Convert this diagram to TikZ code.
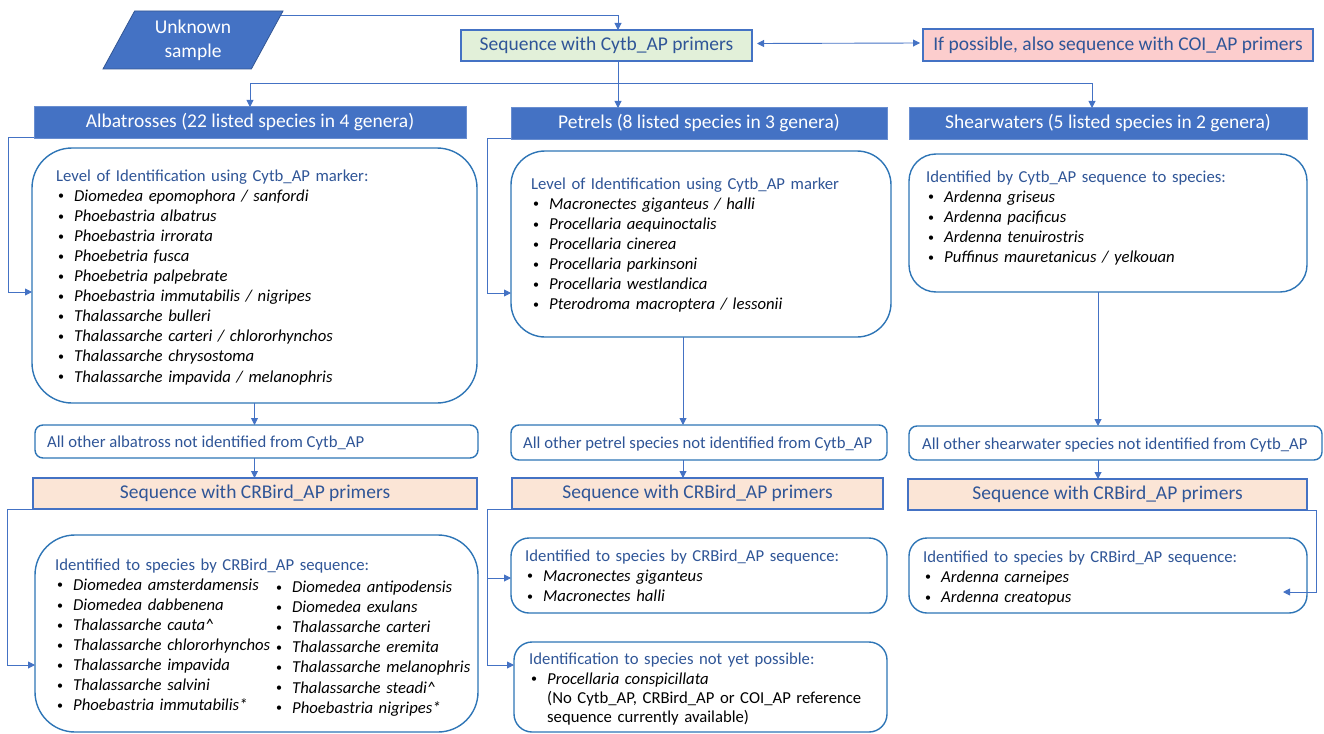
\documentclass[tikz,border=0pt]{standalone}
\usepackage{fontspec}
\setmainfont{Carlito}
\usepackage{xcolor}
\usetikzlibrary{arrows.meta}
\usetikzlibrary{calc}
\usetikzlibrary{shapes.geometric}
\definecolor{hdblue}{HTML}{4472C4}
\definecolor{boxblue}{HTML}{2E75B6}
\definecolor{txtblue}{HTML}{2F5597}
\definecolor{seqgreen}{HTML}{E2F0D9}
\definecolor{coipink}{HTML}{FCCDCD}
\definecolor{crpeach}{HTML}{FBE5D6}
\newcommand{\bigtxt}{\fontsize{19.5}{23.8}\selectfont}
\newcommand{\smalltxt}{\fontsize{16.7}{20.1}\selectfont}
\newcommand{\bul}{\raisebox{1.2pt}{\scalebox{0.72}{\textbullet}}}
\newcommand{\itm}[1]{\makebox[18pt][l]{\hspace{2pt}\bul}\textit{#1}}
\newcommand{\hd}[1]{\textcolor{txtblue}{#1}}
\tikzset{
  >={Triangle[length=7pt,width=7pt]},
  header/.style={draw=hdblue!80!white, fill=hdblue, line width=1pt,
    text=white, font=\bigtxt, inner sep=0pt, outer sep=0pt, anchor=north west},
  primer/.style={draw=hdblue, line width=1.2pt, text=txtblue, font=\bigtxt,
    inner sep=0pt, outer sep=0pt, anchor=north west},
  idbox/.style={draw=boxblue, line width=1.4pt, fill=white, inner sep=0pt,
    outer sep=0pt, anchor=north west},
  listtxt/.style={font=\smalltxt, anchor=base west, inner sep=0pt,
    text width=430pt, align=left},
  resttxt/.style={font=\smalltxt, text=txtblue, anchor=base west, inner sep=0pt},
  conn/.style={draw=hdblue, line width=0.9pt, ->},
}

\begin{document}
\begin{tikzpicture}[x=1pt, y=-1pt]
  \useasboundingbox (0,0) rectangle (1324,733);

  % top row
  \node (unk) [trapezium, trapezium left angle=52, trapezium right angle=128,
    trapezium stretches body=true, minimum width=180pt, minimum height=58pt,
    fill=hdblue, draw=hdblue!75!black, line width=0.8pt, inner sep=0pt,
    outer sep=0pt, text=white, font=\bigtxt, align=center]
    at (193,40) {Unknown\\sample};
  \node (seq) [primer, fill=seqgreen, minimum width=291pt, minimum height=31pt]
    at (461,30) {Sequence with Cytb\_AP primers};
  \node (coi) [primer, fill=coipink, minimum width=390pt, minimum height=32pt]
    at (923,29) {If possible, also sequence with COI\_AP primers};

  % group headers
  \node (albhd) [header, minimum width=432pt, minimum height=31pt]
    at (34,107) {Albatrosses (22 listed species in 4 genera)};
  \node (pethd) [header, minimum width=376pt, minimum height=31pt]
    at (511,108) {Petrels (8 listed species in 3 genera)};
  \node (shhd) [header, minimum width=398pt, minimum height=31pt]
    at (909,108) {Shearwaters (5 listed species in 2 genera)};

  % albatross part
  \node (albid) [idbox, rounded corners=40pt, minimum width=445pt,
    minimum height=255pt] at (32,148) {};
  \node (albidtxt) [listtxt] at (56,181) {%
    \hd{Level of Identification using Cytb\_AP marker:}\\
    \itm{Diomedea epomophora / sanfordi}\\
    \itm{Phoebastria albatrus}\\
    \itm{Phoebastria irrorata}\\
    \itm{Phoebetria fusca}\\
    \itm{Phoebetria palpebrate}\\
    \itm{Phoebastria immutabilis / nigripes}\\
    \itm{Thalassarche bulleri}\\
    \itm{Thalassarche carteri / chlororhynchos}\\
    \itm{Thalassarche chrysostoma}\\
    \itm{Thalassarche impavida / melanophris}};
  \node (albrest) [idbox, rounded corners=8pt, minimum width=443pt,
    minimum height=33pt] at (35,425) {};
  \node (albresttxt) [resttxt] at (47,447)
    {All other albatross not identified from Cytb\_AP};
  \node (albcr) [primer, fill=crpeach, minimum width=444pt, minimum height=31pt]
    at (33,478) {Sequence with CRBird\_AP primers};
  \node (albcrid) [idbox, rounded corners=40pt, minimum width=443pt,
    minimum height=197pt] at (35,535) {};
  \node (albcrtxta) [listtxt] at (55,570) {%
    \hd{Identified to species by CRBird\_AP sequence:}\\
    \itm{Diomedea amsterdamensis}\\
    \itm{Diomedea dabbenena}\\
    \itm{Thalassarche cauta\textasciicircum}\\
    \itm{Thalassarche chlororhynchos}\\
    \itm{Thalassarche impavida}\\
    \itm{Thalassarche salvini}\\
    \itm{Phoebastria immutabilis*}};
  \node (albcrtxtb) [listtxt, text width=200pt] at (274,592.5) {%
    \itm{Diomedea antipodensis}\\
    \itm{Diomedea exulans}\\
    \itm{Thalassarche carteri}\\
    \itm{Thalassarche eremita}\\
    \itm{Thalassarche melanophris}\\
    \itm{Thalassarche steadi\textasciicircum}\\
    \itm{Phoebastria nigripes*}};

  % petrel part
  \node (petid) [idbox, rounded corners=34pt, minimum width=380pt,
    minimum height=186pt] at (511,151) {};
  \node (petidtxt) [listtxt] at (531,189) {%
    \hd{Level of Identification using Cytb\_AP marker}\\
    \itm{Macronectes giganteus / halli}\\
    \itm{Procellaria aequinoctalis}\\
    \itm{Procellaria cinerea}\\
    \itm{Procellaria parkinsoni}\\
    \itm{Procellaria westlandica}\\
    \itm{Pterodroma macroptera / lessonii}};
  \node (petrest) [idbox, rounded corners=8pt, minimum width=376pt,
    minimum height=35pt] at (511,425) {};
  \node (petresttxt) [resttxt] at (523,448)
    {All other petrel species not identified from Cytb\_AP};
  \node (petcr) [primer, fill=crpeach, minimum width=371pt, minimum height=31pt]
    at (512,478) {Sequence with CRBird\_AP primers};
  \node (petcrid) [idbox, rounded corners=18pt, minimum width=376pt,
    minimum height=75pt] at (511,538) {};
  \node (petcrtxt) [listtxt] at (525,561) {%
    \hd{Identified to species by CRBird\_AP sequence:}\\
    \itm{Macronectes giganteus}\\
    \itm{Macronectes halli}};
  \node (petnoid) [idbox, rounded corners=18pt, minimum width=373pt,
    minimum height=90pt] at (514,642) {};
  \node (petnotxt) [listtxt] at (529,664) {%
    \hd{Identification to species not yet possible:}\\
    \itm{Procellaria conspicillata}\\[-1pt]
    \hspace*{18pt}(No Cytb\_AP, CRBird\_AP or COI\_AP reference\\[-1pt]
    \hspace*{18pt}sequence currently available)};

  % shearwater part
  \node (shid) [idbox, rounded corners=27pt, minimum width=398pt,
    minimum height=138pt] at (909,154) {};
  \node (shidtxt) [listtxt] at (926,182) {%
    \hd{Identified by Cytb\_AP sequence to species:}\\
    \itm{Ardenna griseus}\\
    \itm{Ardenna pacificus}\\
    \itm{Ardenna tenuirostris}\\
    \itm{Puffinus mauretanicus / yelkouan}};
  \node (shrest) [idbox, rounded corners=8pt, minimum width=413pt,
    minimum height=34pt] at (909,426) {};
  \node (shresttxt) [resttxt] at (922,449)
    {All other shearwater species not identified from Cytb\_AP};
  \node (shcr) [primer, fill=crpeach, minimum width=399pt, minimum height=31pt]
    at (908,479) {Sequence with CRBird\_AP primers};
  \node (shcrid) [idbox, rounded corners=18pt, minimum width=398pt,
    minimum height=75pt] at (909,538) {};
  \node (shcrtxt) [listtxt] at (923,562) {%
    \hd{Identified to species by CRBird\_AP sequence:}\\
    \itm{Ardenna carneipes}\\
    \itm{Ardenna creatopus}};

  % connectors
  \coordinate (seqdrop) at ($(seq.south)+(11.5,0)$);
  \coordinate (branch) at ($(seqdrop)+(0,22)$);
  \draw[conn] ($(unk.top right corner)+(-2,4)$) -| ($(seq.north)+(11.5,0)$);
  \draw[conn, <->] ($(seq.east)+(5,-2)$) -- ($(coi.west)+(-3,-2)$);
  \draw[conn] (seqdrop) -- (seqdrop |- pethd.north);
  \draw[conn] (branch) -| (albhd.north);
  \draw[conn] (branch) -| ($(shhd.north)+(-16,0)$);

  \draw[conn] ($(albhd.south west)+(0,-1)$) -- ++(-26,0)
    |- ($(albid.west)+(0,16.5)$);
  \draw[conn] (albid.south) -- (albid.south |- albrest.north);
  \draw[conn] (albid.south |- albrest.south) -- (albid.south |- albcr.north);
  \draw[conn] (albcr.south west) -- ++(-26,0) |- ($(albcrid.west)+(0,31.5)$);

  \coordinate (petdrop) at ($(petid.south)+(-18,0)$);
  \draw[conn] ($(pethd.south west)+(0,-1)$) -- ++(-24,0)
    |- ($(petid.west)+(0,49)$);
  \draw[conn] (petdrop) -- (petdrop |- petrest.north);
  \draw[conn] (petdrop |- petrest.south) -- (petdrop |- petcr.north);
  \draw[conn] (petcr.south west) -- ++(-25,0) |- ($(petcrid.west)+(0,2.5)$);
  \draw[conn] (petcr.south west) -- ++(-25,0) |- ($(petnoid.west)+(0,-22)$);

  \coordinate (shdrop) at ($(shid.south)+(-10,0)$);
  \draw[conn] (shdrop) -- (shdrop |- shrest.north);
  \draw[conn] (shdrop |- shrest.south) -- (shdrop |- shcr.north);
  \draw[conn] (shcr.south east) -- ++(9,0) |- ($(shcrid.east)+(-24,16.5)$);
\end{tikzpicture}
\end{document}
